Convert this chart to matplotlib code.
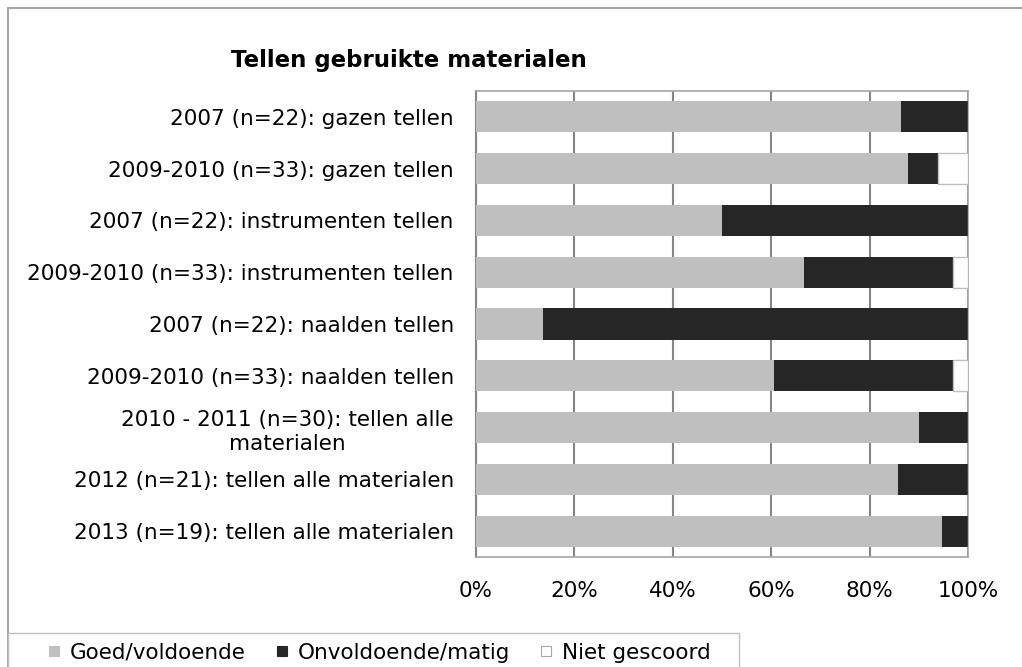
import numpy as np
import matplotlib
matplotlib.use('Agg')
import matplotlib.pyplot as plt
from matplotlib.lines import Line2D
from matplotlib.patches import Rectangle

plt.rcParams['font.family'] = 'DejaVu Sans'

# data (top to bottom), shares in %
categories = [
    '2007 (n=22): gazen tellen',
    '2009-2010 (n=33): gazen tellen',
    '2007 (n=22): instrumenten tellen',
    '2009-2010 (n=33): instrumenten tellen',
    '2007 (n=22): naalden tellen',
    '2009-2010 (n=33): naalden tellen',
    '2010 - 2011 (n=30): tellen alle\nmaterialen',
    '2012 (n=21): tellen alle materialen',
    '2013 (n=19): tellen alle materialen',
]
goed = [86.4, 87.9, 50.0, 66.7, 13.6, 60.6, 90.0, 85.7, 94.7]
onvoldoende = [13.6, 6.1, 50.0, 30.3, 86.4, 36.4, 10.0, 14.3, 5.3]
niet = [0.0, 6.0, 0.0, 3.0, 0.0, 3.0, 0.0, 0.0, 0.0]
series_names = ['Goed/voldoende', 'Onvoldoende/matig', 'Niet gescoord']

c_goed = '#bfbfbf'
c_onv = '#262626'
c_niet = '#ffffff'

W, H = 1022, 667
fig = plt.figure(figsize=(W / 100, H / 100), dpi=100)
ax = fig.add_axes([476 / W, 1 - 557 / H, (968 - 476) / W, (557 - 91) / H])

y = np.arange(len(categories))
goed = np.array(goed)
onv = np.array(onvoldoende)
niet = np.array(niet)

ax.barh(y, goed, height=0.6, color=c_goed, zorder=3)
ax.barh(y, onv, left=goed, height=0.6, color=c_onv, zorder=3)
ax.barh(y, niet, left=goed + onv, height=0.6, color=c_niet,
        edgecolor='#bfbfbf', linewidth=1, zorder=3)

ax.set_xlim(0, 100)
ax.set_ylim(len(categories) - 0.5, -0.5)
ax.set_xticks([0, 20, 40, 60, 80, 100])
ax.set_xticklabels(['0%', '20%', '40%', '60%', '80%', '100%'])
ax.set_yticks(y)
ax.set_yticklabels(categories, linespacing=1.3)
for lab in ax.get_yticklabels():
    lab.set_multialignment('center')
ax.tick_params(axis='both', length=0, labelsize=15.5, colors='black')
ax.tick_params(axis='y', pad=16)
ax.tick_params(axis='x', pad=17)
ax.xaxis.grid(True, color='#868686', linewidth=1.5, zorder=0)
for s in ax.spines.values():
    s.set_color('#a6a6a6')
    s.set_linewidth(1.2)
ax.spines['left'].set_color('#868686')
ax.spines['left'].set_linewidth(1.5)

fig.text(231 / W, 1 - 60 / H, 'Tellen gebruikte materialen', fontsize=16.5,
         fontweight='bold', ha='left', va='center')

# outer chart border
fig.patches.append(Rectangle((8 / W, -0.1), 1.1, 1 - 8 / H + 0.1,
                             transform=fig.transFigure, fill=False,
                             edgecolor='#a6a6a6', linewidth=1.5))
# legend box
fig.patches.append(Rectangle((8 / W, -0.1), (739 - 8) / W, 0.1 + 1 - 633 / H,
                             transform=fig.transFigure, fill=False,
                             edgecolor='#bfbfbf', linewidth=1))

handles = [Line2D([], [], marker='s', linestyle='none', markersize=7.5,
                  markerfacecolor=c, markeredgecolor=e, markeredgewidth=0.8)
           for c, e in [(c_goed, c_goed), (c_onv, c_onv), (c_niet, '#a6a6a6')]]
fig.legend(handles, series_names, loc='center', ncol=3,
           bbox_to_anchor=(378 / W, 1 - 653 / H), frameon=False,
           fontsize=15.5, handletextpad=0.35, columnspacing=1.25,
           handlelength=0.8)

fig.savefig('out.png', dpi=100)
